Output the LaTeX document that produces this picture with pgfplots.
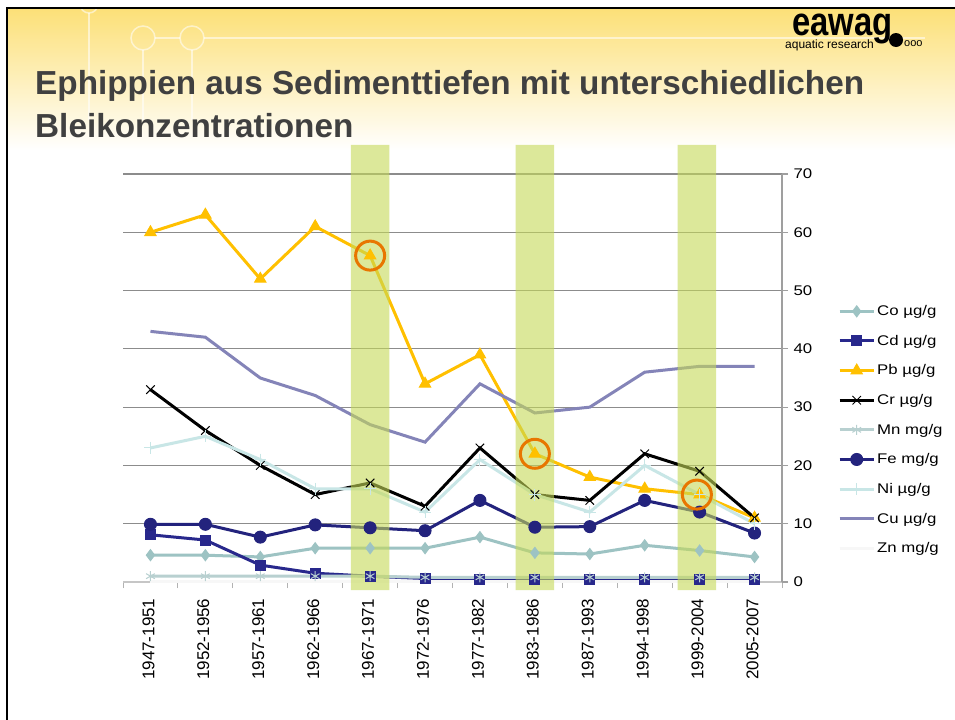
\documentclass[border=0pt]{standalone}
\usepackage{fontspec}
\setmainfont{Liberation Sans}
\newfontfamily\chartfont[FakeStretch=1.2]{Liberation Sans}
\newfontfamily\logofont[FakeStretch=0.82]{Liberation Sans}
\usepackage{pgfplots}
\usepackage{pgfplotstable}
\pgfplotsset{compat=1.18}

\definecolor{coC}{RGB}{157,195,195}
\definecolor{cdC}{RGB}{40,40,140}
\definecolor{pbC}{RGB}{255,192,0}
\definecolor{mnC}{RGB}{184,208,208}
\definecolor{feC}{RGB}{35,35,125}
\definecolor{niC}{RGB}{200,230,230}
\definecolor{cuC}{RGB}{132,132,184}
\definecolor{barC}{RGB}{198,217,87}
\definecolor{ringC}{RGB}{232,118,0}
\definecolor{titleC}{RGB}{64,64,64}
\definecolor{headC}{RGB}{252,224,120}
\definecolor{headM}{RGB}{254,242,196}
\definecolor{gridC}{RGB}{140,140,140}

% metals per sediment period (index 0 = 1947-1951)
\pgfplotstableread{
x  Co  Cd  Pb  Cr  Mn  Fe   Ni  Cu  Zn
0  4.6 8.1 60  33  1.0 9.9  23  43  0.1
1  4.6 7.2 63  26  1.0 9.9  25  42  0.1
2  4.3 2.9 52  20  1.0 7.7  21  35  0.1
3  5.8 1.5 61  15  1.0 9.8  16  32  0.1
4  5.8 1.0 56  17  1.0 9.3  16  27  0.1
5  5.8 0.6 34  13  0.8 8.8  12  24  0.1
6  7.7 0.4 39  23  0.8 14   21  34  0.1
7  5.0 0.4 22  15  0.8 9.4  15  29  0.1
8  4.8 0.4 18  14  0.8 9.5  12  30  0.1
9  6.3 0.4 16  22  0.8 14   20  36  0.1
10 5.4 0.4 15  19  0.8 12   15  37  0.1
11 4.3 0.4 11  11  0.8 8.4  10  37  0.1
}\metals

\begin{document}
\begin{tikzpicture}
\useasboundingbox (0,0) rectangle (955bp,-720bp);
\fill[white] (0,0) rectangle (955bp,-720bp);
% slide header
\shade[top color=headC, middle color=headM, bottom color=white] (8bp,-9bp) rectangle (955bp,-150bp);
\begin{scope}
\clip (8bp,-9bp) rectangle (955bp,-150bp);
\begin{scope}[draw=white, opacity=0.55, line width=1.5bp]
\draw (89bp,-4bp) circle (9bp);
\draw (89bp,-13bp) -- (89bp,-120bp);
\draw (143bp,-38bp) circle (12bp);
\draw (192bp,-38bp) circle (12bp);
\draw (155bp,-38bp) -- (180bp,-38bp);
\draw (204bp,-38bp) -- (925bp,-38bp);
\draw (143bp,-50bp) -- (143bp,-120bp);
\draw (192bp,-50bp) -- (192bp,-120bp);
\end{scope}
\end{scope}
\draw[black, line width=2.5bp] (6bp,-8bp) -- (955bp,-8bp);
\draw[black, line width=2.5bp] (7bp,-8bp) -- (7bp,-720bp);
% logo
\node[anchor=base west, inner sep=0, font=\logofont\bfseries\fontsize{40bp}{40bp}\selectfont] at (792bp,-35bp) {eawag};
\fill[black] (896bp,-40bp) circle (7bp);
\node[anchor=base west, inner sep=0, font=\fontsize{12bp}{12bp}\selectfont] at (785bp,-48bp) {aquatic research};
\node[anchor=base west, inner sep=0, font=\fontsize{11bp}{11bp}\selectfont] at (904bp,-46bp) {ooo};
% title
\node[anchor=base west, inner sep=0, text=titleC, font=\bfseries\fontsize{33.3bp}{38bp}\selectfont] at (35bp,-94bp) {Ephippien aus Sedimenttiefen mit unterschiedlichen};
\node[anchor=base west, inner sep=0, text=titleC, font=\bfseries\fontsize{33.3bp}{38bp}\selectfont] at (35bp,-137bp) {Bleikonzentrationen};

\begin{axis}[
  at={(123bp,-582bp)}, anchor=south west,
  scale only axis, width=659bp, height=408bp,
  xmin=-0.5, xmax=11.5, ymin=0, ymax=70,
  clip=false,
  axis x line*=bottom, axis y line*=right,
  axis line style={-, draw=gray!75, line width=1.2bp},
  x axis line style={draw=gray!45},
  tick align=outside,
  major tick length=6bp,
  xtick={-0.5,0.5,...,11.5},
  xticklabels={},
  extra x ticks={0,...,11},
  extra x tick labels={1947-1951,1952-1956,1957-1961,1962-1966,1967-1971,1972-1976,1977-1982,1983-1986,1987-1993,1994-1998,1999-2004,2005-2007},
  extra x tick style={major tick length=0pt, xticklabel style={rotate=90, anchor=east, yshift=2bp, xshift=-13bp, font=\fontsize{17bp}{17bp}\selectfont}},
  xtick style={draw=gray!60, line width=1bp},
  ytick={0,10,...,70},
  ytick style={draw=gray!75, line width=1.2bp},
  ymajorgrids,
  grid style={draw=gridC, line width=1.2bp},
  tick label style={font=\chartfont\fontsize{14bp}{14bp}\selectfont},
  yticklabel style={anchor=west, xshift=2bp},
  /pgf/number format/assume math mode=true,
  legend style={at={(1.085,0.683)}, anchor=north west, draw=none, fill=none,
    font=\chartfont\fontsize{14bp}{16bp}\selectfont, row sep=14bp, inner sep=0pt},
  legend cell align=left,
  legend image code/.code={\draw[mark repeat=2, mark phase=2, #1] plot coordinates {(0bp,0bp) (17bp,0bp) (34bp,0bp)};},
  every axis plot/.append style={line width=3bp},
]
\addplot[coC, mark=diamond*, mark size=5.5bp, mark options={solid, line width=1bp}] table[x=x, y=Co] {\metals};
\addlegendentry{Co µg/g}
\addplot[cdC, mark=square*, mark size=5bp, mark options={solid, line width=1bp}] table[x=x, y=Cd] {\metals};
\addlegendentry{Cd µg/g}
\addplot[pbC, mark=triangle*, mark size=6.5bp, mark options={solid, line width=1bp}] table[x=x, y=Pb] {\metals};
\addlegendentry{Pb µg/g}
\addplot[black, mark=x, mark size=6bp, mark options={solid, line width=1bp}] table[x=x, y=Cr] {\metals};
\addlegendentry{Cr µg/g}
\addplot[mnC, mark=asterisk, mark size=5bp, mark options={solid, line width=1bp}] table[x=x, y=Mn] {\metals};
\addlegendentry{Mn mg/g}
\addplot[feC, mark=*, mark size=6bp, mark options={solid, line width=1bp}] table[x=x, y=Fe] {\metals};
\addlegendentry{Fe mg/g}
\addplot[niC, mark=+, mark size=6bp, mark options={solid, line width=1bp}] table[x=x, y=Ni] {\metals};
\addlegendentry{Ni µg/g}
\addplot[cuC, no marks] table[x=x, y=Cu] {\metals};
\addlegendentry{Cu µg/g}
\addplot[white!97!black, no marks] table[x=x, y=Zn] {\metals};
\addlegendentry{Zn mg/g}
% highlighted sediment layers
\addplot[draw=none, fill=barC, fill opacity=0.6, line width=0pt, forget plot] coordinates {(3.65,-1.4) (3.65,75) (4.35,75) (4.35,-1.4) (3.65,-1.4)};
\addplot[draw=none, fill=barC, fill opacity=0.6, line width=0pt, forget plot] coordinates {(6.65,-1.4) (6.65,75) (7.35,75) (7.35,-1.4) (6.65,-1.4)};
\addplot[draw=none, fill=barC, fill opacity=0.6, line width=0pt, forget plot] coordinates {(9.6,-1.4) (9.6,75) (10.3,75) (10.3,-1.4) (9.6,-1.4)};
% circled Pb values
\addplot[only marks, mark=o, mark size=14.5bp, mark options={draw=ringC, line width=3bp}, forget plot] coordinates {(4,56) (7,22) (9.95,15)};
\end{axis}
\end{tikzpicture}
\end{document}
